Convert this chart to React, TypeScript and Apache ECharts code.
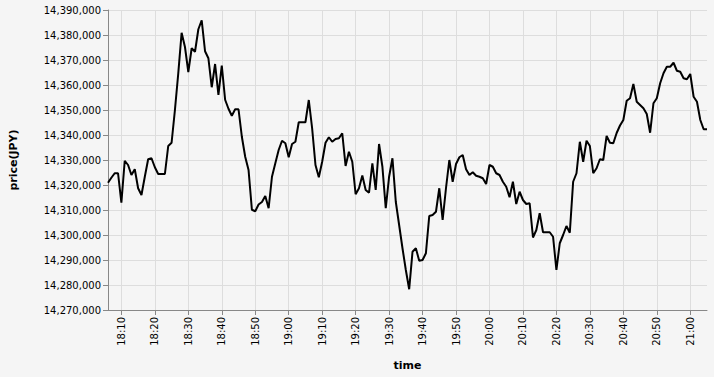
import React, { useEffect, useRef } from "react";
import * as echarts from "echarts";

// one price per minute, starting at 18:06
const startHour = 18;
const startMinute = 6;
const prices = [
  14320900, 14322900, 14324700, 14324700, 14312900, 14329700, 14328000, 14324000, 14326300, 14318700,
  14316000, 14323300, 14330300, 14330700, 14327100, 14324400, 14324400, 14324400, 14335600, 14336900,
  14350000, 14364700, 14380900, 14375200, 14365200, 14374700, 14373300, 14382300, 14385900, 14373500,
  14370700, 14359100, 14368400, 14356000, 14367800, 14354100, 14350500, 14347700, 14350300, 14350300,
  14339300, 14331300, 14326000, 14310100, 14309500, 14312200, 14313200, 14315600, 14310700, 14323300,
  14328700, 14334000, 14337700, 14336700, 14331100, 14336400, 14337300, 14345100, 14345100, 14345100,
  14354000, 14342700, 14328000, 14323100, 14329300, 14336900, 14339100, 14337300, 14338400, 14338700,
  14340700, 14327600, 14333300, 14329300, 14316300, 14318700, 14323800, 14318000, 14316900, 14328700,
  14318000, 14336400, 14327300, 14310700, 14323300, 14330700, 14313300, 14304000, 14294700, 14286000,
  14278300, 14293300, 14294700, 14289700, 14290000, 14292700, 14307600, 14308000, 14309300, 14318700,
  14306000, 14318700, 14330000, 14321300, 14328400, 14331100, 14332000, 14326300, 14324000, 14325100,
  14323700, 14323300, 14322700, 14320400, 14328000, 14327300, 14324700, 14324000, 14321300, 14319300,
  14315100, 14321300, 14312400, 14317300, 14314000, 14312400, 14312700, 14299000, 14302000, 14308700,
  14301100, 14301100, 14301100, 14299300, 14286000, 14296700, 14300000, 14303600, 14300900, 14321300,
  14324700, 14337300, 14329300, 14337700, 14335600, 14324700, 14326700, 14330300, 14330000, 14339600,
  14336900, 14336700, 14340800, 14343800, 14346000, 14353700, 14354700, 14360400, 14353300, 14352000,
  14350700, 14348400, 14340900, 14352700, 14354700, 14360700, 14364700, 14367300, 14367300, 14368900,
  14365700, 14365300, 14362700, 14362300, 14364400, 14355300, 14353300, 14346000, 14342300, 14342300,
];

const tickLabels = [
  "18:10", "18:20", "18:30", "18:40", "18:50", "19:00", "19:10", "19:20", "19:30",
  "19:40", "19:50", "20:00", "20:10", "20:20", "20:30", "20:40", "20:50", "21:00",
];

const yMin = 14270000;
const yMax = 14390000;
const yStep = 10000;

const times = prices.map((_, i) => {
  const m = startHour * 60 + startMinute + i;
  return `${Math.floor(m / 60)}:${String(m % 60).padStart(2, "0")}`;
});

const isTick = (_i: number, v: string) => tickLabels.includes(v);

export default function App() {
  const ref = useRef<HTMLDivElement>(null);
  useEffect(() => {
    document.body.style.margin = "0";
    document.body.style.background = "#f5f5f5";
    const chart = echarts.init(ref.current!, undefined, { renderer: "svg" });
    const font = "DejaVu Sans";
    chart.setOption({
      animation: false,
      backgroundColor: "#f5f5f5",
      textStyle: { fontFamily: font },
      grid: { left: 107, top: 10, right: 7, bottom: 67, containLabel: false },
      xAxis: {
        type: "category",
        data: times,
        boundaryGap: false,
        name: "time",
        nameLocation: "middle",
        nameGap: 50,
        nameTextStyle: { fontFamily: font, fontSize: 11, fontWeight: "bold", color: "#000" },
        axisLine: { show: true, lineStyle: { color: "#888", width: 1 } },
        axisTick: { show: true, interval: isTick, length: 5, lineStyle: { color: "#888" } },
        axisLabel: {
          interval: isTick,
          rotate: 90,
          margin: 7,
          fontFamily: font,
          fontSize: 10,
          color: "#000",
        },
        splitLine: { show: true, interval: isTick, lineStyle: { color: "#ddd", width: 1 } },
      },
      yAxis: {
        type: "value",
        min: yMin,
        max: yMax,
        interval: yStep,
        name: "price(JPY)",
        nameLocation: "middle",
        nameRotate: 90,
        nameGap: 89,
        nameTextStyle: { fontFamily: font, fontSize: 11, fontWeight: "bold", color: "#000" },
        axisLine: { show: true, lineStyle: { color: "#888", width: 1 } },
        axisTick: { show: true, length: 5, lineStyle: { color: "#888" } },
        axisLabel: {
          margin: 7,
          fontFamily: font,
          fontSize: 10,
          color: "#000",
          formatter: (v: number) => v.toLocaleString("en-US"),
        },
        splitLine: { show: true, lineStyle: { color: "#ddd", width: 1 } },
      },
      series: [
        {
          type: "line",
          data: prices,
          showSymbol: false,
          symbol: "none",
          lineStyle: { color: "#000", width: 2 },
          itemStyle: { color: "#000" },
        },
      ],
    });
    return () => chart.dispose();
  }, []);
  return <div ref={ref} style={{ width: 714, height: 377 }} />;
}
